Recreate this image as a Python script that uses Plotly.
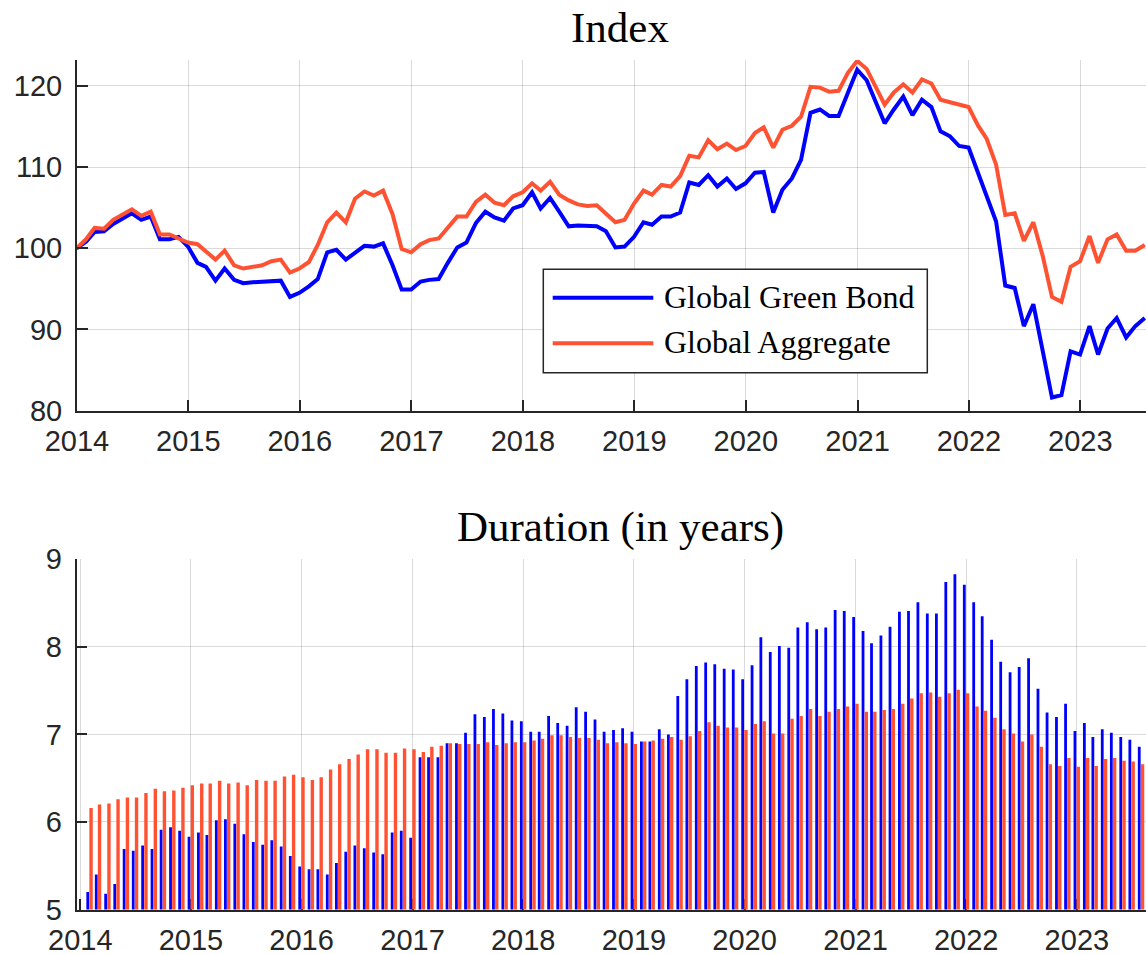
import pandas as pd
import plotly.graph_objects as go

# ---- data -------------------------------------------------------------
# month-end index levels, Dec 2013 = 100
index_dates = pd.date_range("2013-12-31", periods=116, freq="ME")
green_index = [
    100.0, 100.8, 102.0, 102.1, 103.0, 103.6, 104.3, 103.5, 103.9, 101.1, 101.1, 101.4,
    100.2, 98.2, 97.7, 96.0, 97.5, 96.1, 95.7, 95.8, 95.9, 95.9, 96.0, 94.0,
    94.5, 95.3, 96.2, 99.5, 99.8, 98.6, 99.5, 100.3, 100.2, 100.6, 97.9, 94.9,
    94.9, 95.9, 96.1, 96.2, 98.2, 100.1, 100.7, 103.1, 104.5, 103.8, 103.4, 104.9,
    105.3, 106.9, 104.9, 106.2, 104.5, 102.7, 102.8, 102.8, 102.7, 102.1, 100.1, 100.2,
    101.4, 103.2, 102.9, 103.9, 103.9, 104.4, 108.1, 107.8, 109.0, 107.6, 108.6, 107.3,
    108.0, 109.3, 109.4, 104.4, 107.2, 108.6, 110.9, 116.7, 117.1, 116.3, 116.3, 119.1,
    122.0, 120.7, 118.3, 115.4, 117.1, 118.7, 116.4, 118.3, 117.4, 114.4, 113.8, 112.6,
    112.4, 109.2, 106.6, 103.3, 95.4, 95.1, 90.4, 93.1, 87.3, 81.6, 81.9, 87.3,
    86.9, 90.4, 86.9, 90.1, 91.4, 89.0, 90.4, 91.4,
]
aggregate_index = [
    100.0, 101.1, 102.5, 102.4, 103.5, 104.1, 104.8, 104.0, 104.5, 101.7, 101.7, 101.2,
    100.7, 100.5, 99.6, 98.6, 99.7, 97.9, 97.5, 97.7, 97.9, 98.4, 98.6, 97.0,
    97.5, 98.3, 100.4, 103.2, 104.4, 103.2, 106.1, 107.0, 106.5, 107.1, 104.2, 99.9,
    99.5, 100.5, 101.0, 101.2, 102.5, 103.9, 103.9, 105.7, 106.6, 105.6, 105.3, 106.4,
    106.9, 108.0, 107.1, 108.2, 106.6, 105.9, 105.4, 105.2, 105.3, 104.3, 103.2, 103.5,
    105.5, 107.1, 106.6, 107.8, 107.6, 108.9, 111.4, 111.2, 113.3, 112.2, 112.9, 112.1,
    112.6, 114.2, 114.9, 112.4, 114.6, 115.1, 116.2, 119.9, 119.8, 119.3, 119.4, 121.6,
    123.1, 122.1, 120.0, 117.7, 119.2, 120.2, 119.2, 120.8, 120.3, 118.3, 118.0, 117.7,
    117.4, 115.1, 113.5, 110.3, 104.1, 104.3, 100.9, 103.2, 99.0, 94.0, 93.4, 97.7,
    98.4, 101.5, 98.2, 101.1, 101.7, 99.7, 99.7, 100.4,
]

# month-end modified duration, in years
duration_dates = pd.date_range("2014-01-31", periods=115, freq="ME")
green_duration = [
    5.20, 5.40, 5.18, 5.29, 5.69, 5.67, 5.73, 5.69, 5.91, 5.94, 5.90, 5.83,
    5.88, 5.85, 6.02, 6.03, 5.98, 5.86, 5.77, 5.74, 5.79, 5.72, 5.61, 5.49,
    5.46, 5.46, 5.40, 5.53, 5.66, 5.73, 5.70, 5.65, 5.63, 5.88, 5.90, 5.82,
    6.74, 6.74, 6.74, 6.90, 6.90, 7.02, 7.23, 7.20, 7.29, 7.24, 7.16, 7.15,
    7.03, 7.03, 7.21, 7.13, 7.10, 7.31, 7.26, 7.17, 7.03, 7.05, 7.07, 7.03,
    6.92, 6.92, 7.06, 7.00, 7.44, 7.63, 7.78, 7.82, 7.80, 7.75, 7.74, 7.63,
    7.79, 8.11, 7.94, 8.01, 7.99, 8.22, 8.28, 8.20, 8.22, 8.42, 8.41, 8.34,
    8.18, 8.04, 8.13, 8.23, 8.40, 8.41, 8.51, 8.38, 8.38, 8.74, 8.83, 8.71,
    8.51, 8.35, 8.08, 7.83, 7.71, 7.77, 7.87, 7.52, 7.25, 7.20, 7.35, 7.04,
    7.13, 6.97, 7.06, 7.02, 6.97, 6.94, 6.86,
]
aggregate_duration = [
    6.16, 6.20, 6.21, 6.26, 6.28, 6.28, 6.33, 6.38, 6.35, 6.36, 6.39, 6.42,
    6.44, 6.44, 6.47, 6.44, 6.45, 6.42, 6.48, 6.47, 6.47, 6.52, 6.54, 6.51,
    6.48, 6.51, 6.60, 6.66, 6.72, 6.77, 6.83, 6.83, 6.79, 6.79, 6.84, 6.83,
    6.80, 6.86, 6.87, 6.90, 6.89, 6.89, 6.89, 6.91, 6.88, 6.90, 6.91, 6.91,
    6.93, 6.95, 6.99, 6.99, 6.97, 6.96, 6.96, 6.94, 6.90, 6.91, 6.90, 6.89,
    6.92, 6.93, 6.95, 6.97, 6.94, 6.98, 7.04, 7.14, 7.10, 7.08, 7.08, 7.05,
    7.12, 7.15, 7.01, 7.01, 7.18, 7.21, 7.29, 7.21, 7.26, 7.29, 7.32, 7.35,
    7.26, 7.26, 7.28, 7.29, 7.35, 7.41, 7.47, 7.48, 7.43, 7.47, 7.51, 7.47,
    7.32, 7.27, 7.19, 7.06, 7.01, 6.92, 7.00, 6.86, 6.66, 6.64, 6.73, 6.63,
    6.73, 6.64, 6.72, 6.73, 6.70, 6.69, 6.66,
]

series_names = ["Global Green Bond", "Global Aggregate"]
year_ticks = pd.date_range("2014-01-01", "2023-01-01", freq="YS")
year_labels = [str(d.year) for d in year_ticks]

# ---- styling ----------------------------------------------------------
W, H = 1146, 954
BLUE = "#0000ff"
ORANGE = "#ff5233"
AXIS = "#262626"
GRID = "rgba(38,38,38,0.17)"
TICK_FONT = dict(family="Liberation Sans, Arial, sans-serif", size=29, color=AXIS)
SERIF = "Liberation Serif, Times New Roman, serif"


def px_x(x):
    return x / W


def px_y(y):
    return 1 - y / H


DAY_MS = 86400000
PX_DAYS = 365.25 / 110.75  # bottom panel: days per pixel

fig = go.Figure()

fig.add_trace(go.Scatter(x=index_dates, y=green_index, mode="lines", name=series_names[0],
                         line=dict(color=BLUE, width=4), xaxis="x", yaxis="y",
                         showlegend=False))
fig.add_trace(go.Scatter(x=index_dates, y=aggregate_index, mode="lines", name=series_names[1],
                         line=dict(color=ORANGE, width=4), xaxis="x", yaxis="y",
                         showlegend=False))

fig.add_trace(go.Bar(x=duration_dates, y=green_duration, name=series_names[0],
                     marker=dict(color=BLUE, line=dict(width=0)),
                     offset=-3.0 * PX_DAYS * DAY_MS, width=2.8 * PX_DAYS * DAY_MS,
                     xaxis="x2", yaxis="y2", showlegend=False))
fig.add_trace(go.Bar(x=duration_dates, y=aggregate_duration, name=series_names[1],
                     marker=dict(color=ORANGE, line=dict(width=0)),
                     offset=0.0, width=3.4 * PX_DAYS * DAY_MS,
                     xaxis="x2", yaxis="y2", showlegend=False))

common_x = dict(type="date", tickvals=year_ticks, ticktext=year_labels,
                showgrid=True, gridcolor=GRID, gridwidth=1,
                showline=True, linecolor=AXIS, linewidth=1.5,
                ticks="inside", ticklen=11, tickwidth=1.5, tickcolor=AXIS,
                tickfont=TICK_FONT, zeroline=False, automargin=False,
                ticklabelstandoff=4)
common_y = dict(showgrid=True, gridcolor=GRID, gridwidth=1,
                showline=True, linecolor=AXIS, linewidth=1.5,
                ticks="inside", ticklen=11, tickwidth=1.5, tickcolor=AXIS,
                tickfont=TICK_FONT, zeroline=False, automargin=False,
                ticklabelstandoff=7)

fig.update_layout(
    width=W, height=H,
    margin=dict(l=0, r=0, t=0, b=0),
    paper_bgcolor="white", plot_bgcolor="white",
    barmode="overlay",
    showlegend=False,
    xaxis=dict(common_x, domain=[px_x(76.8), 1],
               range=["2013-12-31 18:00", "2023-08-04"], anchor="y"),
    yaxis=dict(common_y, domain=[px_y(410.5), px_y(60)], range=[80, 123.2],
               tickvals=[80, 90, 100, 110, 120], anchor="x"),
    xaxis2=dict(common_x, domain=[px_x(76.5), 1],
                range=["2013-12-19 14:00", "2023-08-17"], anchor="y2",
                layer="below traces"),
    yaxis2=dict(common_y, domain=[px_y(909.5), px_y(559.3)], range=[5, 9],
                tickvals=[5, 6, 7, 8, 9], anchor="x2"),
)

# panel titles
fig.add_annotation(x=px_x(620), y=px_y(28), xref="paper", yref="paper",
                   text="Index", showarrow=False, xanchor="center", yanchor="middle",
                   font=dict(family=SERIF, size=43, color="black"))
fig.add_annotation(x=px_x(620), y=px_y(527), xref="paper", yref="paper",
                   text="Duration (in years)", showarrow=False,
                   xanchor="center", yanchor="middle",
                   font=dict(family=SERIF, size=43, color="black"))

# boxed legend inside the index panel
fig.add_shape(type="rect", xref="paper", yref="paper",
              x0=px_x(543.3), x1=px_x(927.3), y0=px_y(372.7), y1=px_y(269.3),
              line=dict(color=AXIS, width=1.5), fillcolor="white", layer="above")
for name, color, ly in [(series_names[0], BLUE, 297.7), (series_names[1], ORANGE, 343.3)]:
    fig.add_shape(type="line", xref="paper", yref="paper",
                  x0=px_x(552.7), x1=px_x(653.3), y0=px_y(ly), y1=px_y(ly),
                  line=dict(color=color, width=4), layer="above")
    fig.add_annotation(x=px_x(661.5), y=px_y(ly - 1), xref="paper", yref="paper",
                       text=name, showarrow=False, xanchor="left", yanchor="middle",
                       font=dict(family=SERIF, size=32, color="black"))

fig.write_html("out.html")
